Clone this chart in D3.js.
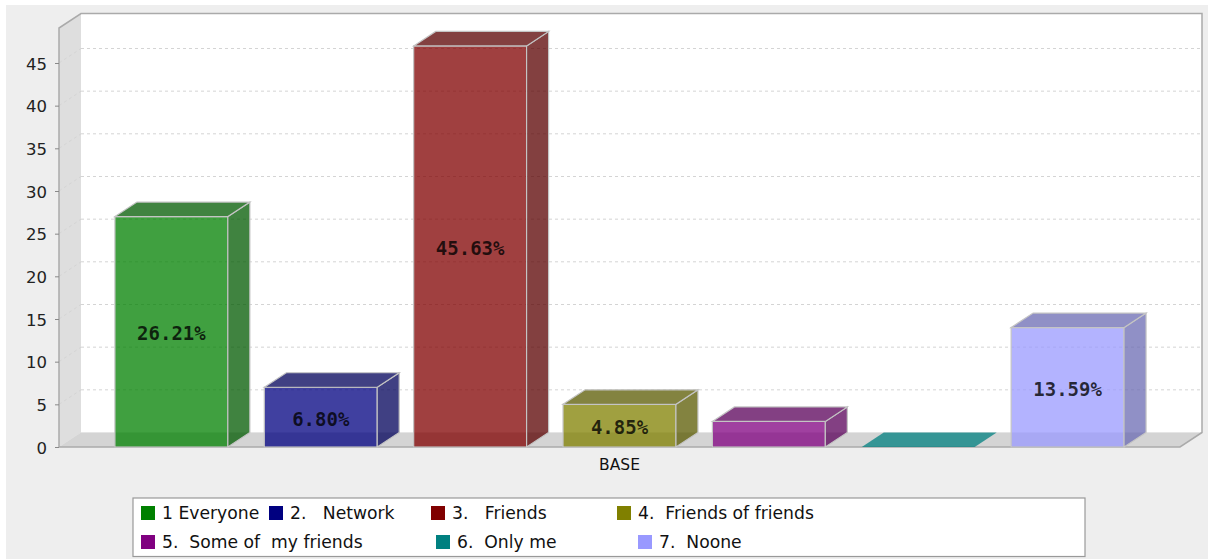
<!DOCTYPE html>
<html>
<head>
<meta charset="utf-8">
<script src="https://cdn.jsdelivr.net/npm/d3@7"></script>
<style>
  html, body { margin: 0; padding: 0; background: #ffffff; }
  svg { display: block; }
  .legend text { white-space: pre; }
</style>
</head>
<body>
<div id="chart"></div>
<script>
// ---------------- data ----------------
const categories = ["BASE"];
const seriesNames = ["1 Everyone", "2.   Network", "3.   Friends", "4.  Friends of friends",
                     "5.  Some of  my friends", "6.  Only me", "7.  Noone"];
const seriesValues = [27, 7, 47, 5, 3, 0, 14];
const seriesColors = ["#008000", "#000080", "#800000", "#808000", "#800080", "#008080", "#9999ff"];
const yTicks = [0, 5, 10, 15, 20, 25, 30, 35, 40, 45];
const yMax = 49.1;

// ---------------- layout ----------------
const W = 1208, H = 559;
const fx0 = 59, fx1 = 1180, fy0 = 28, fy1 = 447;   // front plane
const dx = 22, dy = 14.5;                          // 3D offset
const alpha = 0.75;

const svg = d3.select("#chart").append("svg").attr("width", W).attr("height", H);

svg.append("rect").attr("x", 6).attr("y", 5).attr("width", W - 6).attr("height", H - 5).attr("fill", "#eeeeee");

const y = d3.scaleLinear().domain([0, yMax]).range([fy1, fy0]);
const xCat = d3.scaleBand().domain(categories).range([fx0, fx1]);
const xSer = d3.scaleBand().domain(d3.range(seriesValues.length)).range([fx0, fx1])
  .paddingInner(0.244).paddingOuter(0.3745);

const darker = c => { const k = d3.rgb(c); return d3.rgb(k.r * 0.7, k.g * 0.7, k.b * 0.7).toString(); };

// back wall
svg.append("rect").attr("x", fx0 + dx).attr("y", fy0 - dy).attr("width", fx1 - fx0)
  .attr("height", fy1 - fy0).attr("fill", "#ffffff");
// left wall
svg.append("polygon").attr("points", [[fx0, fy0], [fx0 + dx, fy0 - dy], [fx0 + dx, fy1 - dy], [fx0, fy1]].join(" "))
  .attr("fill", "#dedede");
// floor
svg.append("polygon").attr("points", [[fx0, fy1], [fx0 + dx, fy1 - dy], [fx1 + dx, fy1 - dy], [fx1, fy1]].join(" "))
  .attr("fill", "#d4d4d4");

// gridlines
const grid = svg.append("g");
yTicks.filter(t => t > 0).forEach(t => {
  const yy = y(t);
  grid.append("line").attr("x1", fx0 + dx).attr("x2", fx1 + dx).attr("y1", yy - dy).attr("y2", yy - dy)
    .attr("stroke", "#d4d4d4").attr("stroke-width", 1).attr("stroke-dasharray", "3,3");
  grid.append("line").attr("x1", fx0).attr("x2", fx0 + dx).attr("y1", yy).attr("y2", yy - dy)
    .attr("stroke", "#cfcfcf").attr("stroke-width", 1).attr("stroke-dasharray", "3,3").attr("opacity", 0.6);
});

// outlines
const outline = "#aaaaaa";
svg.append("polyline").attr("points", [[fx0, fy1], [fx0, fy0], [fx0 + dx, fy0 - dy], [fx1 + dx, fy0 - dy], [fx1 + dx, fy1 - dy], [fx1, fy1], [fx0, fy1]].join(" "))
  .attr("fill", "none").attr("stroke", outline).attr("stroke-width", 1.5);

// bars
const bars = svg.append("g");
seriesValues.forEach((v, i) => {
  const x0 = xSer(i), w = xSer.bandwidth(), x1 = x0 + w;
  const yt = y(v), yb = y(0);
  const c = seriesColors[i], cd = darker(c);
  const g = bars.append("g");
  if (v > 0) {
    g.append("rect").attr("x", x0).attr("y", yt).attr("width", w).attr("height", yb - yt)
      .attr("fill", c).attr("fill-opacity", alpha).attr("stroke", "#c4c4c4").attr("stroke-width", 1.2);
    g.append("polygon").attr("points", [[x1, yt], [x1 + dx, yt - dy], [x1 + dx, yb - dy], [x1, yb]].join(" "))
      .attr("fill", cd).attr("fill-opacity", alpha).attr("stroke", "#c4c4c4").attr("stroke-width", 1.2);
    g.append("polygon").attr("points", [[x0, yt], [x0 + dx, yt - dy], [x1 + dx, yt - dy], [x1, yt]].join(" "))
      .attr("fill", cd).attr("fill-opacity", alpha).attr("stroke", "#c4c4c4").attr("stroke-width", 1.2);
  } else {
    g.append("polygon").attr("points", [[x0, yt], [x0 + dx, yt - dy], [x1 + dx, yt - dy], [x1, yt]].join(" "))
      .attr("fill", c).attr("fill-opacity", alpha);
  }
});

// value labels (percent of total)
const total = d3.sum(seriesValues);
const pct = d3.format(".2%");
seriesValues.forEach((v, i) => {
  const yt = y(v), yb = y(0);
  if (yb - yt < 30) return;
  svg.append("text")
    .attr("x", xSer(i) + xSer.bandwidth() / 2)
    .attr("y", (yt + yb) / 2 + 1.5)
    .attr("text-anchor", "middle").attr("dominant-baseline", "central")
    .attr("font-family", "DejaVu Sans Mono").attr("font-weight", "bold").attr("font-size", 19)
    .attr("fill", "#000").attr("fill-opacity", 0.78)
    .text(pct(v / total));
});

// y axis
const yAxis = svg.append("g").attr("transform", `translate(${fx0},0)`)
  .call(d3.axisLeft(y).tickValues(yTicks).tickSize(4).tickPadding(8).tickFormat(d3.format("d")));
yAxis.select(".domain").remove();
yAxis.selectAll(".tick line").attr("stroke", "#888");
yAxis.selectAll(".tick text").attr("font-family", "DejaVu Sans").attr("font-size", 16.5).attr("fill", "#222")
  .attr("dy", "0.38em");

// category axis
const xAxis = svg.append("g").attr("transform", `translate(0,${fy1})`)
  .call(d3.axisBottom(xCat).tickSize(0).tickPadding(12));
xAxis.select(".domain").remove();
xAxis.selectAll(".tick text").attr("font-family", "DejaVu Sans").attr("font-size", 15.5).attr("fill", "#111");

// legend
const legendX = [140, 268, 430, 616, 140, 435, 637];
const legendRow = [0, 0, 0, 0, 1, 1, 1];
const lg = svg.append("g").attr("class", "legend");
lg.append("rect").attr("x", 133).attr("y", 498).attr("width", 952).attr("height", 58.5)
  .attr("fill", "#ffffff").attr("stroke", "#999").attr("stroke-width", 1.2);
seriesNames.forEach((name, i) => {
  const lx = legendX[i], ly = 506 + legendRow[i] * 29;
  lg.append("rect").attr("x", lx + 1).attr("y", ly).attr("width", 14).attr("height", 14).attr("fill", seriesColors[i]);
  lg.append("text").attr("x", lx + 22).attr("y", ly + 13)
    .attr("font-family", "DejaVu Sans").attr("font-size", 17.2).attr("fill", "#111")
    .text(name);
});
</script>
</body>
</html>
